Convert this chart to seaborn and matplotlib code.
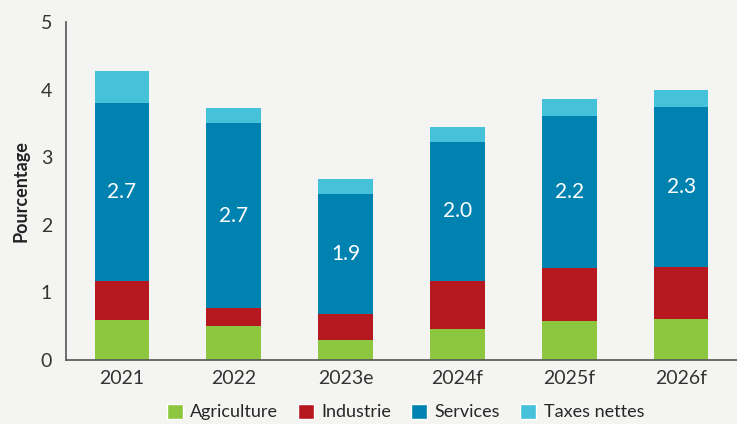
import numpy as np
import pandas as pd
import seaborn as sns
import matplotlib.pyplot as plt
from matplotlib.patches import Patch

# Data
years = ['2021', '2022', '2023e', '2024f', '2025f', '2026f']
agriculture = [0.59, 0.51, 0.30, 0.46, 0.58, 0.61]
industrie = [0.58, 0.26, 0.38, 0.71, 0.78, 0.77]
services = [2.63, 2.74, 1.78, 2.06, 2.26, 2.37]
taxes = [0.48, 0.22, 0.22, 0.22, 0.25, 0.25]
service_labels = ['2.7', '2.7', '1.9', '2.0', '2.2', '2.3']

colors = {'Agriculture': '#8dc63f', 'Industrie': '#b5191f',
          'Services': '#0082b0', 'Taxes nettes': '#45c1da'}

sns.set_style('white')
plt.rcParams['font.family'] = ['Lato', 'DejaVu Sans']
bg = '#f4f4f2'

df = pd.DataFrame({'year': years, 'Agriculture': agriculture, 'Industrie': industrie,
                   'Services': services, 'Taxes nettes': taxes})
cum = df[['Agriculture', 'Industrie', 'Services', 'Taxes nettes']].cumsum(axis=1)
cum['year'] = years

fig = plt.figure(figsize=(7.37, 4.24), dpi=100, facecolor=bg)
ax = fig.add_axes([0.0896, 0.151, 0.9104, 0.796])
ax.set_facecolor(bg)

# stacked bars: draw cumulative totals from top to bottom
for name in ['Taxes nettes', 'Services', 'Industrie', 'Agriculture']:
    sns.barplot(data=cum, x='year', y=name, color=colors[name], width=0.49,
                saturation=1, ax=ax, edgecolor='none')

# values in the services segment
for i, lab in enumerate(service_labels):
    mid = (cum['Industrie'][i] + cum['Services'][i]) / 2
    ax.text(i, mid, lab, ha='center', va='center', color='white', fontsize=15)

ax.set_xlim(-0.5, 5.5)
ax.set_ylim(0, 5)
ax.set_yticks([0, 1, 2, 3, 4, 5])
ax.set_xlabel('')
ax.set_ylabel('Pourcentage', fontsize=13, fontweight='bold', color='#222222', labelpad=8)
ax.tick_params(axis='both', length=0, labelsize=14, colors='#333333')
ax.tick_params(axis='x', pad=7)
ax.tick_params(axis='y', pad=10)
sns.despine(ax=ax)
for s in ['left', 'bottom']:
    ax.spines[s].set_color('#555555')
    ax.spines[s].set_linewidth(1.2)

handles = [Patch(facecolor=c, label=n) for n, c in colors.items()]
fig.legend(handles=handles, loc='lower center', bbox_to_anchor=(0.55, -0.03), ncol=4,
           frameon=False, fontsize=13, handlelength=0.9, handleheight=0.9,
           handletextpad=0.4, columnspacing=1.1)

fig.savefig('out.png', dpi=100, facecolor=bg)
